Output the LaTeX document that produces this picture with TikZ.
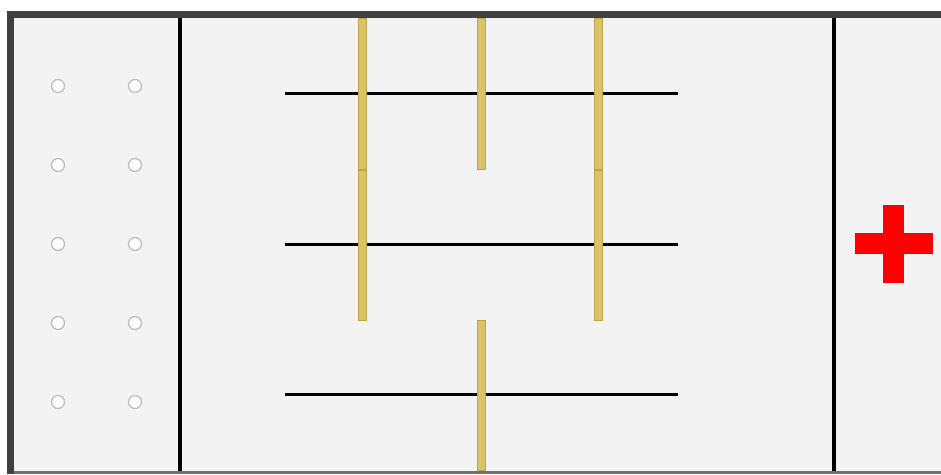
\documentclass[tikz,border=0pt]{standalone}
\definecolor{panel}{HTML}{F3F3F3}
\definecolor{frame}{HTML}{404040}
\definecolor{goldfill}{HTML}{D9C268}
\definecolor{goldedge}{HTML}{BFA548}
\definecolor{holeedge}{HTML}{BEBEBE}
\tikzset{
  bar/.style={fill=goldfill, draw=goldedge, line width=0.8pt},
  wire/.style={draw=black, line width=3pt},
  divider/.style={draw=black, line width=3.5pt},
  hole/.style={circle, fill=white, draw=holeedge, line width=1.3pt, minimum size=13pt, inner sep=0pt},
}
\begin{document}
\begin{tikzpicture}[x=1pt,y=-1pt]
\useasboundingbox (0,0) rectangle (941,474);
\fill[white] (0,0) rectangle (941,474);
% panel and frame
\fill[panel] (10,14) rectangle (941,472);
\fill[frame] (7,11) rectangle (941,18);
\fill[frame] (7,11) rectangle (14,474);
\fill[frame!75] (14,470.5) rectangle (941,474);
% dividers
\draw[divider] (180,18) -- (180,471);
\draw[divider] (834,18) -- (834,471);
% holes
\foreach \yy [count=\i] in {86,165,244,323,402}{
  \node[hole] (hl\i) at (58,\yy) {};
  \node[hole] (hr\i) at (135,\yy) {};
}
% wires
\coordinate (w1a) at (285,93.5);  \coordinate (w1b) at (678,93.5);
\coordinate (w2a) at (285,244);   \coordinate (w2b) at (678,244);
\coordinate (w3a) at (285,394.5); \coordinate (w3b) at (678,394.5);
\draw[wire] (w1a) -- (w1b);
\draw[wire] (w2a) -- (w2b);
\draw[wire] (w3a) -- (w3b);
% gold bars
\draw[bar] (358,18) rectangle (366,169);
\draw[bar] (358,170) rectangle (366,320);
\draw[bar] (477.5,18) rectangle (485.5,169);
\draw[bar] (594,18) rectangle (602,169);
\draw[bar] (594,170) rectangle (602,320);
\draw[bar] (477.5,320) rectangle (485.5,470);
% red cross
\fill[red] (855,233) rectangle (933,254);
\fill[red] (883,205) rectangle (904,283);
\end{tikzpicture}
\end{document}
